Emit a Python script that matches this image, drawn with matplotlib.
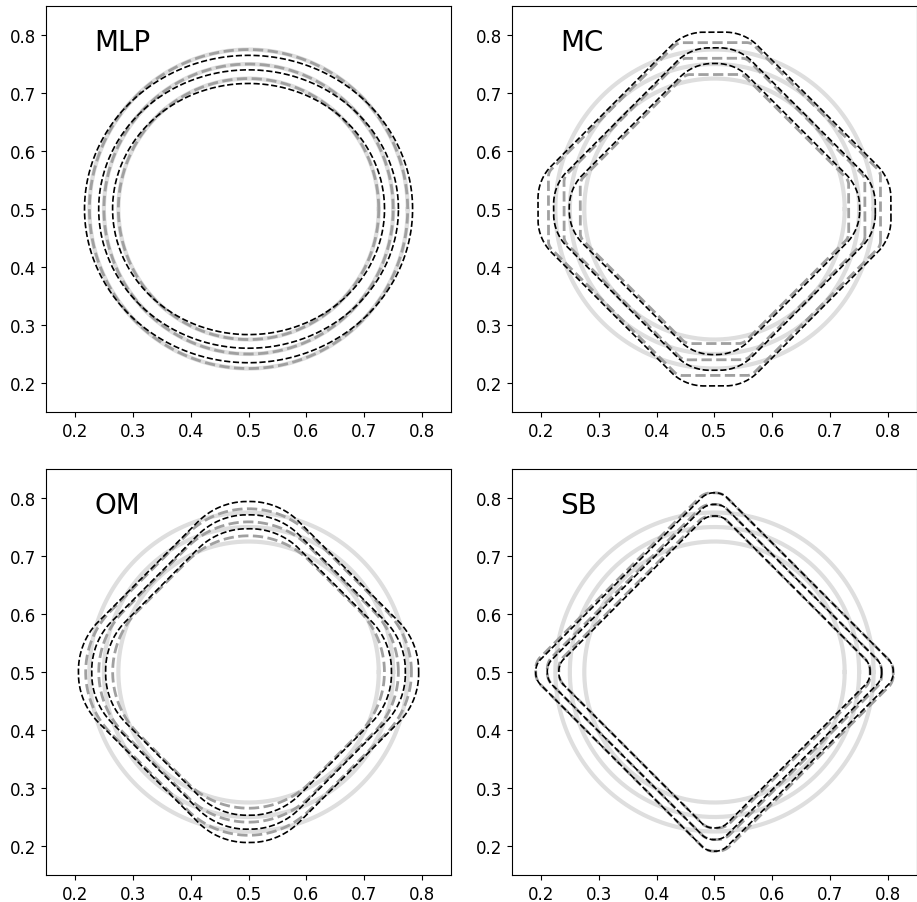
import numpy as np
import matplotlib
matplotlib.use('Agg')
import matplotlib.pyplot as plt

# Радиусы исходных окружностей (светло-серые линии)
circle_r = [0.225, 0.25, 0.275]

# MLP: эталон - окружности, предсказание - почти эллипсы
mlp_gray_r = [0.225, 0.25, 0.275]
mlp_black_w = [0.235, 0.259, 0.2835]
mlp_black_h = [0.2165, 0.240, 0.265]

# MC: полуширина по оси, расстояние до диагональной стороны, радиус скругления
mc_gray_w = [0.232, 0.260, 0.287]
mc_gray_d = [0.199, 0.223, 0.248]
mc_gray_c = [0.02, 0.02, 0.02]
mc_black_w = [0.251, 0.278, 0.305]
mc_black_d = [0.203, 0.226, 0.252]
mc_black_c = [0.08, 0.08, 0.08]

# OM
om_gray_w = [0.235, 0.259, 0.282]
om_gray_d = [0.210, 0.227, 0.243]
om_gray_c = [0.15, 0.15, 0.15]
om_black_w = [0.247, 0.271, 0.294]
om_black_d = [0.212, 0.229, 0.245]
om_black_c = [0.12, 0.12, 0.12]

# SB
sb_w = [0.269, 0.289, 0.309]
sb_black_d = [0.200, 0.214, 0.228]
sb_gray_d2 = [0.203, 0.217, 0.231]
sb_c = [0.03, 0.03, 0.03]

ticks = [0.2, 0.3, 0.4, 0.5, 0.6, 0.7, 0.8]


def clip(poly, n, b):
    # отсечение многоугольника полуплоскостью n·p <= b
    out = []
    for i in range(len(poly)):
        p, q = poly[i], poly[(i + 1) % len(poly)]
        fp, fq = p @ n - b, q @ n - b
        if fp <= 1e-12:
            out.append(p)
        if fp * fq < 0:
            out.append(p + (q - p) * fp / (fp - fq))
    return np.array(out)


def rounded(w, d1, d2, c, x0=0.5, y0=0.5):
    # восьмиугольник, скруглённый радиусом c
    a = w - c
    s1 = np.sqrt(2) * (d1 - c)
    s2 = np.sqrt(2) * (d2 - c)
    poly = np.array([[a, -a], [a, a], [-a, a], [-a, -a]], float)
    for n, b in [((1, 1), s1), ((-1, -1), s1), ((-1, 1), s2), ((1, -1), s2)]:
        poly = clip(poly, np.array(n, float), b)
    t = np.linspace(0, 2 * np.pi, 2000)
    nrm = np.column_stack([np.cos(t), np.sin(t)])
    k = np.argmax(nrm @ poly.T, axis=1)
    pts = poly[k] + c * nrm
    return x0 + pts[:, 0], y0 + pts[:, 1]


def ellipse(w, h, x0=0.5, y0=0.5):
    t = np.linspace(0, 2 * np.pi, 400)
    return x0 + w * np.cos(t), y0 + h * np.sin(t)


# Кривые для каждой панели: (эталон, предсказание)
panels = {
    'MLP': ([ellipse(r, r) for r in mlp_gray_r],
            [ellipse(w, h) for w, h in zip(mlp_black_w, mlp_black_h)]),
    'MC': ([rounded(w, d, d, c) for w, d, c in zip(mc_gray_w, mc_gray_d, mc_gray_c)],
           [rounded(w, d, d, c) for w, d, c in zip(mc_black_w, mc_black_d, mc_black_c)]),
    'OM': ([rounded(w, d, d, c) for w, d, c in zip(om_gray_w, om_gray_d, om_gray_c)],
           [rounded(w, d, d, c) for w, d, c in zip(om_black_w, om_black_d, om_black_c)]),
    'SB': ([rounded(w, d, d2, c) for w, d, d2, c in zip(sb_w, sb_black_d, sb_gray_d2, sb_c)],
           [rounded(w, d, d, c) for w, d, c in zip(sb_w, sb_black_d, sb_c)]),
}

fig = plt.figure(figsize=(9.17, 9.03), dpi=100)
positions = [[0.0502, 0.5426, 0.4417, 0.4496], [0.5583, 0.5426, 0.4417, 0.4496],
             [0.0502, 0.0299, 0.4417, 0.4496], [0.5583, 0.0299, 0.4417, 0.4496]]

for pos, (name, (gray, black)) in zip(positions, panels.items()):
    ax = fig.add_axes(pos)
    for r in circle_r:
        x, y = ellipse(r, r)
        ax.plot(x, y, color='#dedede', lw=3, zorder=1)
    for x, y in gray:
        ax.plot(x, y, '--', color='#a0a0a0', lw=2, zorder=2)
    for x, y in black:
        ax.plot(x, y, '--', color='black', lw=1.2, zorder=3)
    ax.set_xlim(0.15, 0.85)
    ax.set_ylim(0.15, 0.85)
    ax.set_xticks(ticks)
    ax.set_yticks(ticks)
    ax.tick_params(labelsize=12)
    ax.text(0.233, 0.774, name, fontsize=20)

fig.savefig('out.png', dpi=100)
